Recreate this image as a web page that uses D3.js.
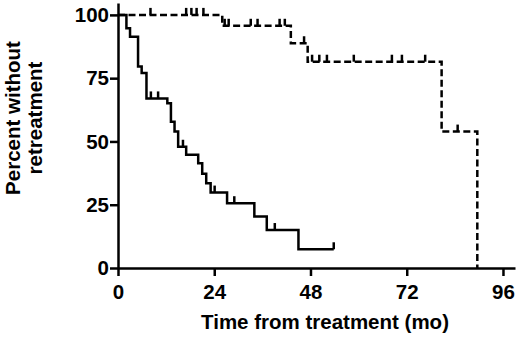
<!DOCTYPE html>
<html>
<head>
<meta charset="utf-8">
<script src="https://cdn.jsdelivr.net/npm/d3@7"></script>
<style>
  html, body { margin: 0; padding: 0; background: #fff; }
  svg { display: block; }
  text { font-family: "Liberation Sans", Arial, Helvetica, sans-serif; font-weight: bold; fill: #000; }
</style>
</head>
<body>
<div id="chart"></div>
<script>
'use strict';

// solid curve: step times (mo) and percent after each step
const solidTimes = [0, 2.1, 3.0, 5.0, 5.9, 7.1, 12.3, 13.2, 14.1, 15.0, 17.0, 20.0, 21.0, 22.0, 23.1, 27.2, 34.0, 37.1, 45.0];
const solidPct   = [100, 94.7, 91.4, 79.6, 77, 67, 65.1, 57.8, 53.9, 47.9, 44.7, 41.4, 37.2, 33.5, 29.8, 25.6, 20.3, 15, 7.4];
const solidEnd = 53.8;
const solidCensor = [8.2, 10.0, 16.2, 24.1, 29.0, 39.1, 53.8];

// dashed curve
const dashedTimes = [0, 26.0, 43.1, 47.3, 80.7, 89.6];
const dashedPct   = [100, 95.7, 88.8, 81.5, 53.9, 0];
const dashedEnd = 89.6;
const dashedCensor = [8.1, 17.0, 18.3, 19.6, 21.3, 26.6, 27.6, 33.1, 34.8, 40.3, 41.6, 46.4,
                      48.4, 50.2, 52.1, 58.8, 68.3, 70.8, 76.6, 84.7];

const xTicks = [0, 24, 48, 72, 96];
const yTicks = [0, 25, 50, 75, 100];

const W = 520, H = 337;
const FS = 20.5;

const x = d3.scaleLinear().domain([0, 99]).range([118, 515]);
const y = d3.scaleLinear().domain([0, 104.7]).range([268, 3]);

const svg = d3.select('#chart').append('svg')
  .attr('width', W)
  .attr('height', H);

function pctAt(times, pct, t) {
  let v = pct[0];
  for (let i = 0; i < times.length; i++) if (times[i] <= t) v = pct[i];
  return v;
}

function drawCurve(times, pct, end, censor, dash) {
  const pts = times.map((t, i) => [t, pct[i]]);
  if (end > times[times.length - 1]) pts.push([end, pct[pct.length - 1]]);
  const line = d3.line()
    .x(d => x(d[0]))
    .y(d => y(d[1]))
    .curve(d3.curveStepAfter);
  svg.append('path')
    .attr('d', line(pts))
    .attr('fill', 'none')
    .attr('stroke', '#000')
    .attr('stroke-width', 2.5)
    .attr('stroke-dasharray', dash || null);

  svg.append('g').selectAll('line')
    .data(censor)
    .join('line')
    .attr('x1', d => x(d)).attr('x2', d => x(d))
    .attr('y1', d => y(pctAt(times, pct, d)))
    .attr('y2', d => y(pctAt(times, pct, d)) - 7)
    .attr('stroke', '#000')
    .attr('stroke-width', 2.5);
}

// axes
const xAxis = svg.append('g')
  .attr('transform', `translate(0,${y(0)})`)
  .call(d3.axisBottom(x).tickValues(xTicks).tickSize(8).tickSizeOuter(0).tickPadding(8));
const yAxis = svg.append('g')
  .attr('transform', `translate(${x(0)},0)`)
  .call(d3.axisLeft(y).tickValues(yTicks).tickSize(8).tickSizeOuter(0).tickPadding(1));

[xAxis, yAxis].forEach(g => {
  g.select('.domain').attr('stroke-width', 2.5);
  g.selectAll('.tick line').attr('stroke-width', 2.5);
  g.selectAll('.tick text')
    .attr('font-size', FS)
    .style('font-family', '"Liberation Sans", Arial, sans-serif')
    .style('font-weight', 'bold')
    .attr('fill', '#000');
});

drawCurve(solidTimes, solidPct, solidEnd, solidCensor, null);
drawCurve(dashedTimes, dashedPct, dashedEnd, dashedCensor, '7,3.5');

// axis titles
svg.append('text')
  .attr('x', 325)
  .attr('y', 329)
  .attr('text-anchor', 'middle')
  .attr('font-size', FS)
  .text('Time from treatment (mo)');

const yt = svg.append('text')
  .attr('transform', 'translate(20,118) rotate(-90)')
  .attr('text-anchor', 'middle')
  .attr('font-size', FS);
yt.append('tspan').attr('x', 0).attr('y', 0).text('Percent without');
yt.append('tspan').attr('x', 0).attr('y', 22).text('retreatment');
</script>
</body>
</html>
